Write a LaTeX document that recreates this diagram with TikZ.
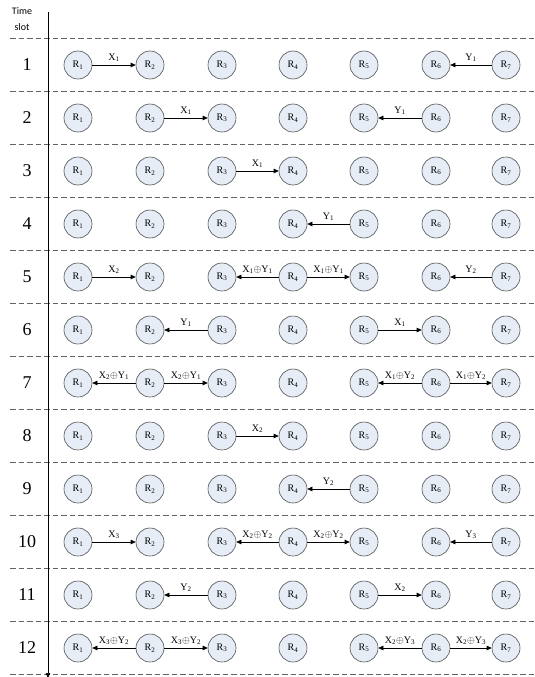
\documentclass[tikz,border=0pt]{standalone}
\usepackage{fontspec}
\setmainfont{Liberation Serif}
\newfontfamily\calib{Carlito}
\usetikzlibrary{arrows.meta}
\definecolor{cfill}{RGB}{231,237,247}
\definecolor{cedge}{RGB}{80,80,80}
\definecolor{dashc}{RGB}{100,100,100}
\newcommand\Xs[1]{X\textsubscript{#1}}
\newcommand\Ys[1]{Y\textsubscript{#1}}
\newcommand\xo[2]{\Xs{#1}$\oplus$\Ys{#2}}
\newcommand\lnk[4]{\draw[link] (r#1-#2) -- node[lbl]{#4} (r#1-#3);}
\tikzset{
  relay/.style={circle,draw=cedge,line width=0.6pt,fill=cfill,minimum size=28pt,inner sep=0pt,font=\fontsize{10}{10}\selectfont},
  link/.style={-{Triangle[length=5pt,width=4.5pt]},black,line width=0.6pt},
  lbl/.style={font=\fontsize{10}{10}\selectfont,inner sep=0pt,above=3pt},
  rowno/.style={font=\fontsize{18}{18}\selectfont},
  sep/.style={dashc,dash pattern=on 5.5pt off 3pt,line width=0.8pt},
  axis/.style={black,line width=0.6pt,-{Triangle[length=5pt,width=4.5pt]}},
  head/.style={font=\calib\fontsize{10}{10}\selectfont,inner sep=0pt}
}
\begin{document}
\begin{tikzpicture}[x=1pt,y=-1pt]
\useasboundingbox (0,0) rectangle (535,677);
\node[head] (t1) at (22,11) {Time};
\node[head] (t2) at (22,27) {slot};
\foreach \k in {0,...,12} {
  \draw[sep] (10,{38+53*\k}) -- (535,{38+53*\k});
}
\coordinate (atop) at (48,12);
\coordinate (abot) at (48,678);
\draw[axis] (atop) -- (abot);
\foreach \r in {1,...,12} {
  \node[rowno] (n\r) at (27,{65+53*(\r-1)}) {\r};
  \foreach \c/\x in {1/78,2/150,3/222,4/293,5/364,6/436,7/506} {
    \node[relay] (r\r-\c) at (\x,{65+53*(\r-1)}) {R\textsubscript{\c}};
  }
}
\lnk{1}{1}{2}{\Xs1}
\lnk{1}{7}{6}{\Ys1}
\lnk{2}{2}{3}{\Xs1}
\lnk{2}{6}{5}{\Ys1}
\lnk{3}{3}{4}{\Xs1}
\lnk{4}{5}{4}{\Ys1}
\lnk{5}{1}{2}{\Xs2}
\lnk{5}{4}{3}{\xo11}
\lnk{5}{4}{5}{\xo11}
\lnk{5}{7}{6}{\Ys2}
\lnk{6}{3}{2}{\Ys1}
\lnk{6}{5}{6}{\Xs1}
\lnk{7}{2}{1}{\xo21}
\lnk{7}{2}{3}{\xo21}
\lnk{7}{6}{5}{\xo12}
\lnk{7}{6}{7}{\xo12}
\lnk{8}{3}{4}{\Xs2}
\lnk{9}{5}{4}{\Ys2}
\lnk{10}{1}{2}{\Xs3}
\lnk{10}{4}{3}{\xo22}
\lnk{10}{4}{5}{\xo22}
\lnk{10}{7}{6}{\Ys3}
\lnk{11}{3}{2}{\Ys2}
\lnk{11}{5}{6}{\Xs2}
\lnk{12}{2}{1}{\xo32}
\lnk{12}{2}{3}{\xo32}
\lnk{12}{6}{5}{\xo23}
\lnk{12}{6}{7}{\xo23}
\end{tikzpicture}
\end{document}
